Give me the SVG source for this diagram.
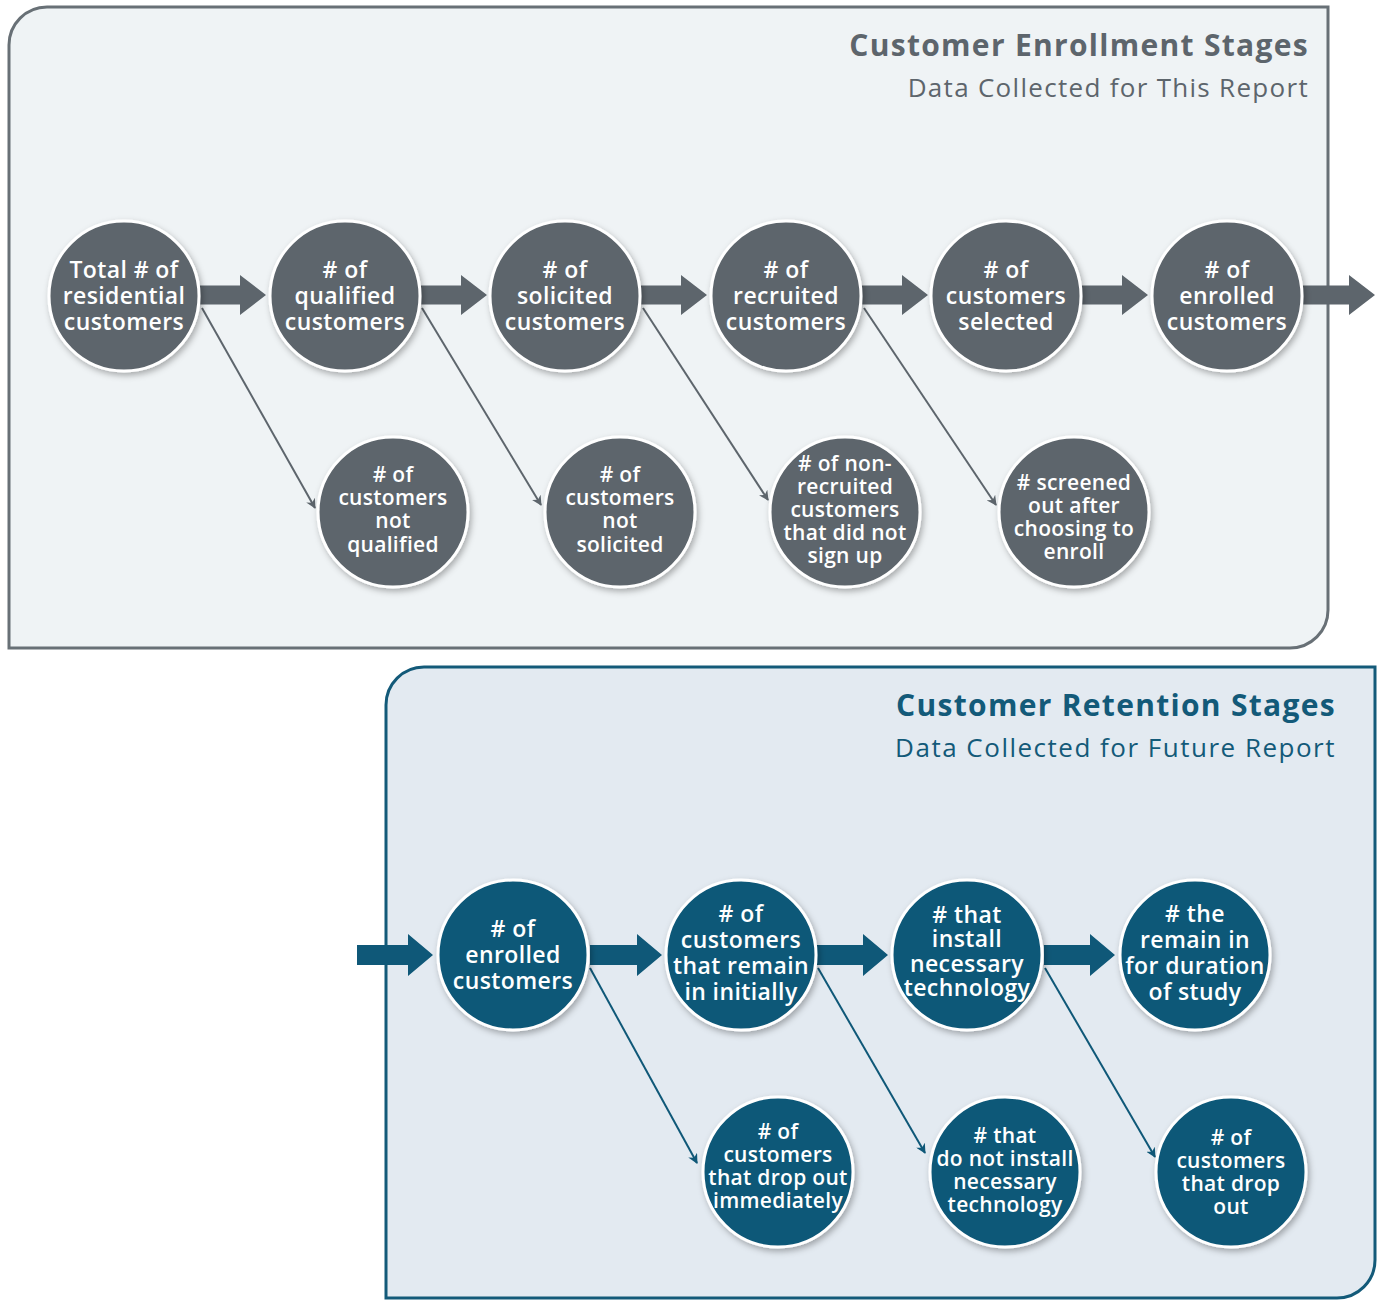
<svg xmlns="http://www.w3.org/2000/svg" width="1377" height="1300" viewBox="0 0 1377 1300">
<defs>
<style>
.ct{font-family:"Open Sans","Liberation Sans",sans-serif;font-weight:600;fill:#ffffff;text-anchor:middle}
.big{font-size:23px;letter-spacing:0.4px}
.sm{font-size:21px;letter-spacing:0.3px}
.g{fill:#5d656c;stroke:#ffffff;stroke-width:3;filter:url(#sh)}
.b{fill:#0f5878;stroke:#ffffff;stroke-width:3;filter:url(#sh)}
.lg{stroke:#5d656c;stroke-width:2;fill:none;marker-end:url(#ag)}
.lb{stroke:#0f5878;stroke-width:2;fill:none;marker-end:url(#ab)}
.title{font-family:"Open Sans","Liberation Sans",sans-serif;font-weight:700;font-size:30px;letter-spacing:1.3px;text-anchor:end}
.sub{font-family:"Open Sans","Liberation Sans",sans-serif;font-weight:400;font-size:26px;letter-spacing:1.3px;text-anchor:end}
</style>
<filter id="sh" x="-20%" y="-20%" width="150%" height="150%">
<feDropShadow dx="2" dy="3" stdDeviation="3" flood-color="#000" flood-opacity="0.3"/>
</filter>
<marker id="ag" viewBox="0 0 10 10" refX="9" refY="5" markerWidth="10" markerHeight="10" markerUnits="userSpaceOnUse" orient="auto"><path d="M0,0 L10,5 L0,10 L3,5 Z" fill="#5d656c"/></marker>
<marker id="ab" viewBox="0 0 10 10" refX="9" refY="5" markerWidth="10" markerHeight="10" markerUnits="userSpaceOnUse" orient="auto"><path d="M0,0 L10,5 L0,10 L3,5 Z" fill="#0f5878"/></marker>
<path id="harrow" d="M0,-9.5 H40 V-20 L66,0 L40,20 V9.5 H0 Z"/>
</defs>
<rect width="1377" height="1300" fill="#ffffff"/>
<g id="panel-enrollment">
<path d="M47,7 H1328 V610 A38,38 0 0 1 1290,648 H9 V45 A38,38 0 0 1 47,7 Z" fill="#eff3f5" stroke="#687076" stroke-width="3"/>
<text class="title" x="1309" y="56" fill="#5d656c">Customer Enrollment Stages</text>
<text class="sub" x="1309" y="97" fill="#5d656c">Data Collected for This Report</text>
</g>
<g id="panel-retention">
<path d="M424,667 H1375 V1260 A38,38 0 0 1 1337,1298 H386 V705 A38,38 0 0 1 424,667 Z" fill="#e3eaf1" stroke="#135a79" stroke-width="3"/>
<text class="title" x="1336" y="716" fill="#135a79">Customer Retention Stages</text>
<text class="sub" x="1336" y="757" fill="#135a79" style="letter-spacing:1.5px">Data Collected for Future Report</text>
</g>
<g id="connectors">
<use href="#harrow" x="200" y="295" fill="#5d656c"/>
<use href="#harrow" x="421" y="295" fill="#5d656c"/>
<use href="#harrow" x="641" y="295" fill="#5d656c"/>
<use href="#harrow" x="862" y="295" fill="#5d656c"/>
<use href="#harrow" x="1082" y="295" fill="#5d656c"/>
<path d="M1303,285.5 H1349 V275 L1375,295 L1349,315 V304.5 H1303 Z" fill="#5d656c"/>
<line class="lg" x1="202" y1="308" x2="315" y2="508"/>
<line class="lg" x1="422" y1="308" x2="541" y2="505"/>
<line class="lg" x1="643" y1="308" x2="768" y2="500"/>
<line class="lg" x1="864" y1="308" x2="996" y2="505"/>
<g fill="#0f5878">
<path d="M357,945 H408 V934 L433,955 L408,976 V965 H357 Z"/>
<path d="M590,945 H637 V934 L662,955 L637,976 V965 H590 Z"/>
<path d="M817,945 H863 V934 L888,955 L863,976 V965 H817 Z"/>
<path d="M1044,945 H1090 V934 L1115,955 L1090,976 V965 H1044 Z"/>
</g>
<line class="lb" x1="590" y1="968" x2="697" y2="1163"/>
<line class="lb" x1="818" y1="968" x2="925" y2="1153"/>
<line class="lb" x1="1045" y1="968" x2="1155" y2="1157"/>
</g>
<g id="n-total"><circle class="g" cx="124" cy="296" r="75"/><text class="ct big"><tspan x="124" y="278">Total # of</tspan><tspan x="124" y="304">residential</tspan><tspan x="124" y="330">customers</tspan></text></g>
<g id="n-qualified"><circle class="g" cx="345" cy="296" r="75"/><text class="ct big"><tspan x="345" y="278"># of</tspan><tspan x="345" y="304">qualified</tspan><tspan x="345" y="330">customers</tspan></text></g>
<g id="n-solicited"><circle class="g" cx="565" cy="296" r="75"/><text class="ct big"><tspan x="565" y="278"># of</tspan><tspan x="565" y="304">solicited</tspan><tspan x="565" y="330">customers</tspan></text></g>
<g id="n-recruited"><circle class="g" cx="786" cy="296" r="75"/><text class="ct big"><tspan x="786" y="278"># of</tspan><tspan x="786" y="304">recruited</tspan><tspan x="786" y="330">customers</tspan></text></g>
<g id="n-selected"><circle class="g" cx="1006" cy="296" r="75"/><text class="ct big"><tspan x="1006" y="278"># of</tspan><tspan x="1006" y="304">customers</tspan><tspan x="1006" y="330">selected</tspan></text></g>
<g id="n-enrolled"><circle class="g" cx="1227" cy="296" r="75"/><text class="ct big"><tspan x="1227" y="278"># of</tspan><tspan x="1227" y="304">enrolled</tspan><tspan x="1227" y="330">customers</tspan></text></g>
<g id="n-notqualified"><circle class="g" cx="393" cy="512" r="75"/><text class="ct sm"><tspan x="393" y="482"># of</tspan><tspan x="393" y="505">customers</tspan><tspan x="393" y="528">not</tspan><tspan x="393" y="552">qualified</tspan></text></g>
<g id="n-notsolicited"><circle class="g" cx="620" cy="512" r="75"/><text class="ct sm"><tspan x="620" y="482"># of</tspan><tspan x="620" y="505">customers</tspan><tspan x="620" y="528">not</tspan><tspan x="620" y="552">solicited</tspan></text></g>
<g id="n-nonrecruited"><circle class="g" cx="845" cy="512" r="75"/><text class="ct sm"><tspan x="845" y="471"># of non-</tspan><tspan x="845" y="494">recruited</tspan><tspan x="845" y="517">customers</tspan><tspan x="845" y="540">that did not</tspan><tspan x="845" y="563">sign up</tspan></text></g>
<g id="n-screened"><circle class="g" cx="1074" cy="512" r="75"/><text class="ct sm"><tspan x="1074" y="490"># screened</tspan><tspan x="1074" y="513">out after</tspan><tspan x="1074" y="536">choosing to</tspan><tspan x="1074" y="559">enroll</tspan></text></g>
<g id="r-enrolled"><circle class="b" cx="513" cy="955" r="75"/><text class="ct big"><tspan x="513" y="937"># of</tspan><tspan x="513" y="963">enrolled</tspan><tspan x="513" y="989">customers</tspan></text></g>
<g id="r-remain"><circle class="b" cx="741" cy="955" r="75"/><text class="ct big"><tspan x="741" y="922"># of</tspan><tspan x="741" y="948">customers</tspan><tspan x="741" y="974">that remain</tspan><tspan x="741" y="1000">in initially</tspan></text></g>
<g id="r-install"><circle class="b" cx="967" cy="955" r="75"/><text class="ct big"><tspan x="967" y="923"># that</tspan><tspan x="967" y="947">install</tspan><tspan x="967" y="972">necessary</tspan><tspan x="967" y="996">technology</tspan></text></g>
<g id="r-duration"><circle class="b" cx="1195" cy="955" r="75"/><text class="ct big"><tspan x="1195" y="922"># the</tspan><tspan x="1195" y="948">remain in</tspan><tspan x="1195" y="974">for duration</tspan><tspan x="1195" y="1000">of study</tspan></text></g>
<g id="r-dropimm"><circle class="b" cx="778" cy="1172" r="75"/><text class="ct sm"><tspan x="778" y="1139"># of</tspan><tspan x="778" y="1162">customers</tspan><tspan x="778" y="1185">that drop out</tspan><tspan x="778" y="1208">immediately</tspan></text></g>
<g id="r-noinstall"><circle class="b" cx="1005" cy="1172" r="75"/><text class="ct sm"><tspan x="1005" y="1143"># that</tspan><tspan x="1005" y="1166">do not install</tspan><tspan x="1005" y="1189">necessary</tspan><tspan x="1005" y="1212">technology</tspan></text></g>
<g id="r-dropout"><circle class="b" cx="1231" cy="1172" r="75"/><text class="ct sm"><tspan x="1231" y="1145"># of</tspan><tspan x="1231" y="1168">customers</tspan><tspan x="1231" y="1191">that drop</tspan><tspan x="1231" y="1214">out</tspan></text></g>
</svg>
